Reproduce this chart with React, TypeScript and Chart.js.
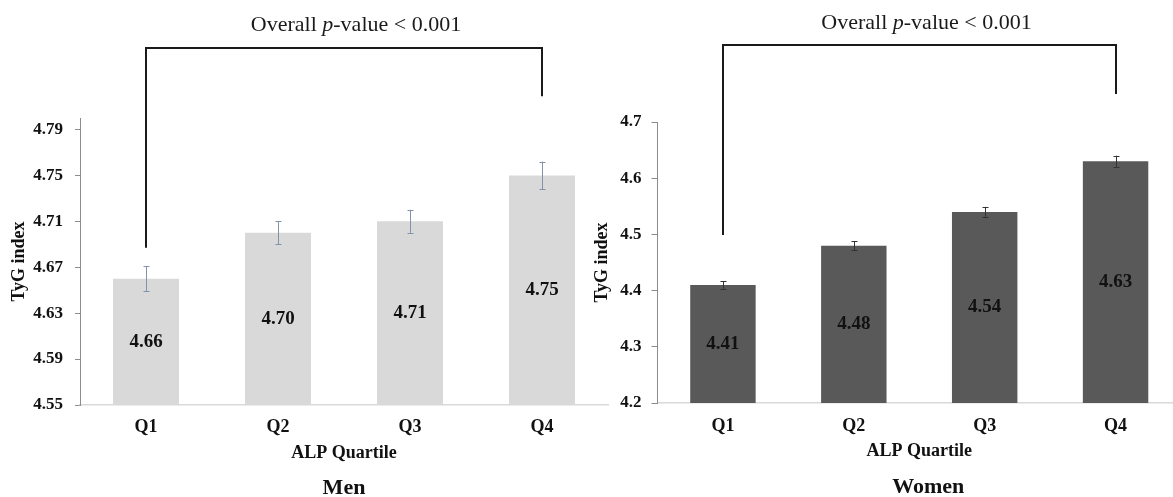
import React, { useEffect, useRef } from "react";
import { Chart, registerables } from "chart.js";

Chart.register(...registerables);

const FONT = "'Liberation Serif', 'Times New Roman', serif";

const categories = ["Q1", "Q2", "Q3", "Q4"];
const menValues = [4.66, 4.7, 4.71, 4.75];
const menErrors = [0.011, 0.01, 0.01, 0.012];
const womenValues = [4.41, 4.48, 4.54, 4.63];
const womenErrors = [0.007, 0.008, 0.009, 0.01];
const menTicks = [4.55, 4.59, 4.63, 4.67, 4.71, 4.75, 4.79];
const womenTicks = [4.2, 4.3, 4.4, 4.5, 4.6, 4.7];
// bracket legs in value units: [left leg end, top line, right leg end]
const menBracket = [4.687, 4.861, 4.819];
const womenBracket = [4.499, 4.837, 4.75];
const annotationParts = ["Overall ", "p", "-value < 0.001"];
const xTitle = "ALP Quartile";
const yTitle = "TyG index";

function makePlugins(values: number[], errors: number[], errColor: string, bracket: number[], textDx: number, textDy: number, caption: string, captionDx: number, captionY: number) {
  return [
    {
      id: "errorBars",
      afterDatasetsDraw(chart: any) {
        const ctx = chart.ctx;
        const meta = chart.getDatasetMeta(0);
        const y = chart.scales.y;
        ctx.save();
        ctx.strokeStyle = errColor;
        ctx.lineWidth = 1;
        meta.data.forEach((el: any, i: number) => {
          const x = Math.round(el.x) + 0.5;
          const t = y.getPixelForValue(values[i] + errors[i]);
          const b = y.getPixelForValue(values[i] - errors[i]);
          ctx.beginPath();
          ctx.moveTo(x, t);
          ctx.lineTo(x, b);
          ctx.moveTo(x - 3, Math.round(t) + 0.5);
          ctx.lineTo(x + 3, Math.round(t) + 0.5);
          ctx.moveTo(x - 3, Math.round(b) + 0.5);
          ctx.lineTo(x + 3, Math.round(b) + 0.5);
          ctx.stroke();
        });
        ctx.restore();
      },
    },
    {
      id: "valueLabels",
      afterDraw(chart: any) {
        const ctx = chart.ctx;
        const meta = chart.getDatasetMeta(0);
        const y = chart.scales.y;
        const base = y.getPixelForValue(y.min);
        ctx.save();
        ctx.fillStyle = "#111";
        ctx.font = `bold 19px ${FONT}`;
        ctx.textAlign = "center";
        ctx.textBaseline = "middle";
        meta.data.forEach((el: any, i: number) => {
          const top = y.getPixelForValue(values[i]);
          ctx.fillText(values[i].toFixed(2), el.x, (top + base) / 2);
        });
        ctx.restore();
      },
    },
    {
      id: "bracketAndCaption",
      afterDraw(chart: any) {
        const ctx = chart.ctx;
        const xs = chart.scales.x;
        const ys = chart.scales.y;
        const xl = Math.round(xs.getPixelForValue(0));
        const xr = Math.round(xs.getPixelForValue(3));
        const yl = ys.getPixelForValue(bracket[0]);
        const yt = Math.round(ys.getPixelForValue(bracket[1]));
        const yr = ys.getPixelForValue(bracket[2]);
        ctx.save();
        ctx.strokeStyle = "#1a1a1a";
        ctx.lineWidth = 2;
        ctx.beginPath();
        ctx.moveTo(xl, yl);
        ctx.lineTo(xl, yt);
        ctx.lineTo(xr, yt);
        ctx.lineTo(xr, yr);
        ctx.stroke();

        // annotation text with italic p
        const fonts = [`22px ${FONT}`, `italic 22px ${FONT}`, `22px ${FONT}`];
        let total = 0;
        const widths = annotationParts.map((p, i) => {
          ctx.font = fonts[i];
          const w = ctx.measureText(p).width;
          total += w;
          return w;
        });
        let x = (xl + xr) / 2 + textDx - total / 2;
        ctx.fillStyle = "#1a1a1a";
        ctx.textBaseline = "middle";
        ctx.textAlign = "left";
        annotationParts.forEach((p, i) => {
          ctx.font = fonts[i];
          ctx.fillText(p, x, yt - textDy);
          x += widths[i];
        });

        // caption
        const ca = chart.chartArea;
        ctx.font = `bold 22px ${FONT}`;
        ctx.textAlign = "center";
        ctx.fillStyle = "#111";
        ctx.fillText(caption, (ca.left + ca.right) / 2 + captionDx, captionY);
        ctx.restore();
      },
    },
  ];
}

function makeConfig(opts: any): any {
  const {
    values, errors, color, errColor, ticks, min, max, decimals, bracket, textDx, textDy, caption, captionDx, captionY,
    padRight, padTop, yWidth, xHeight, xTickPad, xTitlePad, yTickLen, yTickPad, yTitlePad,
  } = opts;
  return {
    type: "bar",
    data: {
      labels: categories,
      datasets: [
        {
          data: values,
          backgroundColor: color,
          borderWidth: 0,
          barPercentage: 0.5,
          categoryPercentage: 1,
        },
      ],
    },
    options: {
      animation: false,
      responsive: false,
      events: [],
      layout: { padding: { left: 0, right: padRight, top: padTop, bottom: 0 } },
      plugins: {
        legend: { display: false },
        tooltip: { enabled: false },
        title: { display: false },
      },
      scales: {
        x: {
          grid: { display: true, drawOnChartArea: false, drawTicks: false },
          border: { display: true, color: "#d9d9d9", width: 1.5 },
          ticks: { color: "#111", font: { family: FONT, size: 18, weight: "bold" }, padding: xTickPad },
          title: {
            display: true,
            text: xTitle,
            color: "#111",
            font: { family: FONT, size: 18, weight: "bold" },
            padding: { top: 0, bottom: xTitlePad },
          },
          afterFit: (s: any) => {
            s.height = xHeight;
          },
        },
        y: {
          min,
          max,
          afterBuildTicks: (s: any) => {
            s.ticks = ticks.map((v: number) => ({ value: v }));
          },
          grid: { drawOnChartArea: false, drawTicks: true, tickLength: yTickLen, color: "#8c8c8c" },
          border: { display: true, color: "#8c8c8c", width: 1 },
          ticks: {
            color: "#111",
            font: { family: FONT, size: 17, weight: "bold" },
            padding: yTickPad,
            callback: (v: any) => Number(v).toFixed(decimals),
          },
          title: {
            display: true,
            text: yTitle,
            color: "#111",
            font: { family: FONT, size: 18, weight: "bold" },
            padding: { top: yTitlePad, bottom: 0 },
          },
          afterFit: (s: any) => {
            s.width = yWidth;
          },
        },
      },
    },
    plugins: makePlugins(values, errors, errColor, bracket, textDx, textDy, caption, captionDx, captionY),
  };
}

function BarPanel(props: { left: number; width: number; config: any }) {
  const ref = useRef<HTMLCanvasElement | null>(null);
  useEffect(() => {
    if (!ref.current) return;
    const chart = new Chart(ref.current, props.config);
    return () => chart.destroy();
  }, []);
  return (
    <canvas
      ref={ref}
      width={props.width}
      height={497}
      style={{ position: "absolute", left: props.left, top: 0, width: props.width, height: 497 }}
    />
  );
}

export default function App() {
  const menConfig = makeConfig({
    values: menValues,
    errors: menErrors,
    color: "#d9d9d9",
    errColor: "#8193ab",
    ticks: menTicks,
    min: 4.55,
    max: 4.8,
    decimals: 2,
    bracket: menBracket,
    textDx: 12,
    textDy: 23,
    caption: "Men",
    captionDx: 0,
    captionY: 488,
    padRight: 32,
    padTop: 118,
    yWidth: 80,
    xHeight: 92,
    xTickPad: 12,
    xTitlePad: 33,
    yTickLen: 5,
    yTickPad: 12,
    yTitlePad: 9,
  });
  const womenConfig = makeConfig({
    values: womenValues,
    errors: womenErrors,
    color: "#595959",
    errColor: "#333333",
    ticks: womenTicks,
    min: 4.2,
    max: 4.7,
    decimals: 1,
    bracket: womenBracket,
    textDx: 7,
    textDy: 22,
    caption: "Women",
    captionDx: 9,
    captionY: 487,
    padRight: 19,
    padTop: 122,
    yWidth: 72.5,
    xHeight: 94,
    xTickPad: 13,
    xTitlePad: 34.5,
    yTickLen: 6,
    yTickPad: 10,
    yTitlePad: 7,
  });
  return (
    <div
      style={{
        position: "fixed",
        left: 0,
        top: 0,
        width: 1173,
        height: 497,
        overflow: "hidden",
        background: "#ffffff",
      }}
    >
      <BarPanel left={0} width={640} config={menConfig} />
      <BarPanel left={585} width={615} config={womenConfig} />
    </div>
  );
}
